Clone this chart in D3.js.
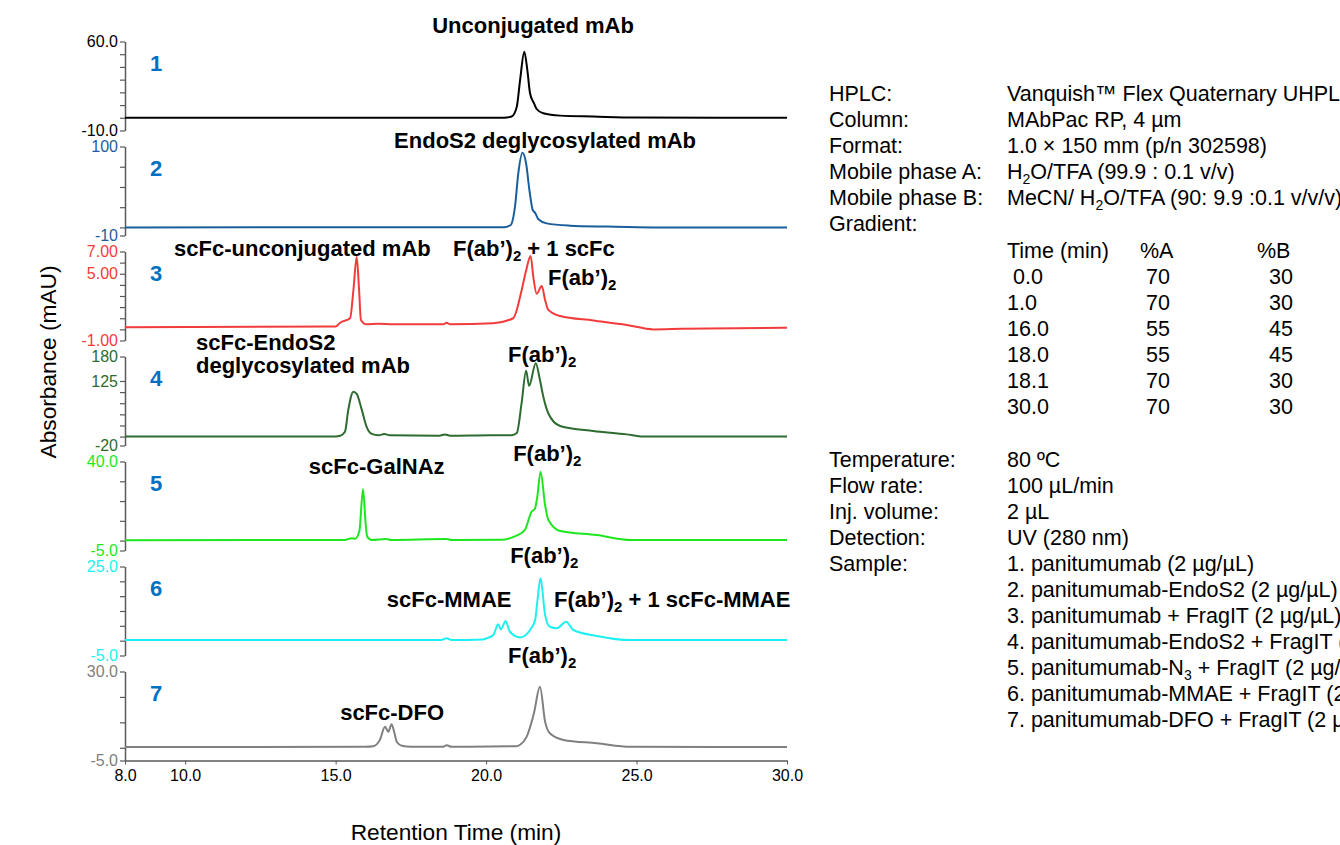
<!DOCTYPE html>
<html lang="en">
<head>
<meta charset="UTF-8">
<title>FragIT RP-HPLC chromatograms</title>
<script src="https://d3js.org/d3.v7.min.js"></script>
<style>
  body { margin: 0; background: #fff; overflow: hidden; }
  svg text { font-family: "Liberation Sans", Arial, sans-serif; }
</style>
</head>
<body>
<div id="chart"></div>
<script>
// [retention time (min), absorbance (mAU)]
const trace1 = [[8,0],[20.6,0.1],[20.85,1],[21.02,8.7],[21.13,29.7],[21.27,52],[21.37,37.6],[21.46,19.3],[21.6,10.9],[21.68,6.9],[21.9,3.5],[22.46,1.7],[23.56,1.0],[25.0,0.2],[30,0]];
const trace2 = [[8,0],[20.6,0.3],[20.82,3],[20.96,25.6],[21.07,66.8],[21.21,92.3],[21.33,79],[21.44,46],[21.55,21.5],[21.63,18],[21.74,10],[22.01,5],[22.79,2.2],[24.0,1],[25.55,0],[30,0]];
const trace3 = [[8,0.2],[15.0,0.25],[15.15,0.6],[15.48,1.0],[15.59,3.5],[15.7,6.5],[15.78,3.5],[15.84,0.85],[16.03,0.45],[16.42,0.5],[16.9,0.45],[18.58,0.45],[18.69,0.6],[18.8,0.45],[20.24,0.55],[20.9,1.0],[21.18,3.5],[21.33,5.3],[21.48,6.6],[21.57,4.7],[21.68,3.2],[21.85,3.9],[21.96,2.65],[22.07,1.75],[22.46,1.2],[23.56,0.8],[24.67,0.4],[25.56,0.0],[26.5,0.05],[30,0.15]];
const trace4 = [[8,0],[15.0,0.5],[15.15,2],[15.31,11],[15.42,60],[15.59,101],[15.7,96],[15.87,60],[16.03,22],[16.2,6],[16.42,3],[16.62,6],[16.8,3],[18.45,2],[18.63,5],[18.8,2],[20.13,3],[20.85,3],[21.02,8],[21.18,75],[21.33,148],[21.43,114],[21.65,165],[21.79,127],[21.9,90],[22.07,52],[22.46,24],[23.56,12.6],[24.67,5],[25.22,0],[30,0]];
const trace5 = [[8,0.2],[15.3,0.3],[15.53,1.2],[15.65,1.0],[15.79,5],[15.91,26],[16.0,8],[16.05,2],[16.2,0.3],[16.69,0.8],[16.85,0.3],[18.69,0.8],[18.85,0.3],[20.5,0.4],[20.85,1.5],[21.01,2.5],[21.29,5.4],[21.51,14.6],[21.62,16],[21.7,22],[21.81,34.8],[21.96,18],[22.07,10.4],[22.46,4.9],[23.68,2.8],[24.8,0.3],[30,0.3]];
const trace6 = [[8,0.2],[18.5,0.2],[18.69,0.8],[18.85,0.2],[19.9,0.4],[20.02,0.8],[20.24,1.9],[20.4,5.5],[20.49,3.8],[20.65,6.6],[20.79,3.0],[21.13,1.1],[21.46,3.6],[21.63,7.0],[21.7,13],[21.81,21],[21.96,8.7],[22.12,4.7],[22.35,4.2],[22.66,6.4],[22.9,3.6],[23.68,1.6],[24.8,0.2],[30,0.2]];
const trace7 = [[8,0.3],[16.0,0.4],[16.25,0.6],[16.47,3.1],[16.64,8.3],[16.75,6.3],[16.86,9.3],[16.95,6],[17.03,2.4],[17.2,0.8],[17.5,0.4],[18.55,0.4],[18.69,1.0],[18.85,0.4],[21.0,0.6],[21.13,1.2],[21.35,4.4],[21.59,13.6],[21.79,24],[21.96,10.3],[22.12,5.7],[22.57,3.1],[23.68,1.8],[24.8,0.4],[30,0.3]];
const traces = [trace1, trace2, trace3, trace4, trace5, trace6, trace7];

const panelDomains = [[-10,60],[-10,100],[-1,7],[-20,180],[-5,40],[-5,25],[-5,30]];
const panelTicks = [[60,50,40,30,20,10,0,-10],[100,75,50,25,0,-10],[7,6,5,4,3,2,1,0,-1],[180,125,100,75,50,25,0,-20],[40,30,20,10,0,-5],[25,20,15,10,5,0,-5],[30,20,10,0,-5]];
const labelledTicks = [[60,-10],[100,-10],[7,5,-1],[180,125,-20],[40,-5],[25,-5],[30,-5]];
const tickText = [["60.0","-10.0"],["100","-10"],["7.00","5.00","-1.00"],["180","125","-20"],["40.0","-5.0"],["25.0","-5.0"],["30.0","-5.0"]];
const panelColors = ["#000000","#1b5e9b","#f23b3b","#2e6b30","#1ee61e","#1cf0f0","#808080"];
const panelNumbers = ["1","2","3","4","5","6","7"];

const xTicks = [8,10,15,20,25,30];
const xTickText = ["8.0","10.0","15.0","20.0","25.0","30.0"];

// peak annotations: panel index, retention time of text anchor, text ("_2" = subscript)
const peakNotes = [
  [0, 21.56, "Unconjugated mAb"],
  [1, 21.96, "EndoS2 deglycosylated mAb"],
  [2, 9.63, "scFc-unconjugated mAb"],
  [2, 18.9, "F(ab’)_2 + 1 scFc"],
  [2, 22.06, "F(ab’)_2"],
  [3, 10.36, "scFc-EndoS2"],
  [3, 10.36, "deglycosylated mAb"],
  [3, 20.73, "F(ab’)_2"],
  [4, 14.11, "scFc-GalNAz"],
  [4, 20.9, "F(ab’)_2"],
  [5, 20.8, "F(ab’)_2"],
  [5, 16.7, "scFc-MMAE"],
  [5, 22.26, "F(ab’)_2 + 1 scFc-MMAE"],
  [6, 20.73, "F(ab’)_2"],
  [6, 15.15, "scFc-DFO"]
];

const methodKeys = ["HPLC:","Column:","Format:","Mobile phase A:","Mobile phase B:","Gradient:"];
const methodValues = ["Vanquish™ Flex Quaternary UHPLC","MAbPac RP, 4 µm","1.0 × 150 mm (p/n 302598)","H_2O/TFA (99.9 : 0.1 v/v)","MeCN/ H_2O/TFA (90: 9.9 :0.1 v/v/v)",""];
const gradHeader = ["Time (min)","%A","%B"];
const gradTime = [" 0.0","1.0","16.0","18.0","18.1","30.0"];
const gradA = ["70","70","55","55","70","70"];
const gradB = ["30","30","45","45","30","30"];
const condKeys = ["Temperature:","Flow rate:","Inj. volume:","Detection:","Sample:"];
const condValues = ["80 ºC","100 µL/min","2 µL","UV (280 nm)"];
const samples = [
  "1. panitumumab (2 µg/µL)",
  "2. panitumumab-EndoS2 (2 µg/µL)",
  "3. panitumumab + FragIT (2 µg/µL)",
  "4. panitumumab-EndoS2 + FragIT (2 µg/µL)",
  "5. panitumumab-N_3 + FragIT (2 µg/µL)",
  "6. panitumumab-MMAE + FragIT (2 µg/µL)",
  "7. panitumumab-DFO + FragIT (2 µg/µL)"
];

const width = 1340, height = 845;
const svg = d3.select("#chart").append("svg")
  .attr("width", width)
  .attr("height", height);

const x = d3.scaleLinear().domain([8, 30]).range([125, 787]);
const panelTop = i => 41.5 + i * 105;
const panelH = 89;

// write text with "_n" parts as subscripts
function rich(sel, str, subSize, shift) {
  const parts = str.split(/_(\d)/);
  parts.forEach((p, k) => {
    if (p === "") return;
    const sub = k % 2 === 1;
    const t = sel.append("tspan").text(p);
    if (sub) t.attr("font-size", subSize).attr("dy", shift);
    else if (k > 0) t.attr("dy", -shift);
  });
  return sel;
}

// note placement relative to the panel top (px) and anchor
const noteLayout = [
  [-8.5, "middle"], [1.5, "middle"], [4.5, "start"], [4.5, "start"], [33.5, "start"],
  [-6.5, "start"], [16.5, "start"], [5.5, "start"], [12.5, "start"], [-0.5, "start"],
  [-3.5, "start"], [40.5, "start"], [40.5, "start"], [-8.5, "start"], [48.5, "start"]
];

traces.forEach((data, i) => {
  const top = panelTop(i), bottom = top + panelH;
  const y = d3.scaleLinear().domain(panelDomains[i]).range([bottom, top]);
  const g = svg.append("g");

  const ax = g.append("g")
    .attr("transform", "translate(125,0)")
    .call(d3.axisLeft(y)
      .tickValues(panelTicks[i])
      .tickSize(5)
      .tickSizeOuter(0)
      .tickPadding(2)
      .tickFormat(v => {
        const k = labelledTicks[i].indexOf(v);
        return k >= 0 ? tickText[i][k] : "";
      }));
  ax.select(".domain").attr("stroke", "#595959").attr("stroke-width", 1.5);
  ax.selectAll(".tick line").attr("stroke", "#595959").attr("stroke-width", 1.2);
  ax.selectAll(".tick text")
    .attr("fill", panelColors[i])
    .style("font-size", "16px");

  g.append("path")
    .datum(data)
    .attr("fill", "none")
    .attr("stroke", panelColors[i])
    .attr("stroke-width", 2)
    .attr("d", d3.line()
      .x(d => x(d[0]))
      .y(d => y(d[1]))
      .curve(d3.curveMonotoneX));

  g.append("text")
    .attr("x", 150)
    .attr("y", top + 29)
    .attr("fill", "#0070c0")
    .style("font-size", "22px")
    .style("font-weight", "bold")
    .text(panelNumbers[i]);
});

peakNotes.forEach((n, k) => {
  const t = svg.append("text")
    .attr("x", x(n[1]))
    .attr("y", panelTop(n[0]) + noteLayout[k][0])
    .attr("text-anchor", noteLayout[k][1])
    .attr("fill", "#000")
    .style("font-size", "22px")
    .style("font-weight", "bold");
  rich(t, n[2], "15px", 5);
});

// x axis
const xa = svg.append("g")
  .attr("transform", "translate(0," + (panelTop(6) + panelH) + ")")
  .call(d3.axisBottom(x)
    .tickValues(xTicks)
    .tickSize(4)
    .tickSizeOuter(0)
    .tickPadding(5)
    .tickFormat((v, k) => xTickText[k]));
xa.select(".domain").attr("stroke", "#595959").attr("stroke-width", 1.5);
xa.selectAll(".tick line").attr("stroke", "#595959");
xa.selectAll(".tick text").attr("fill", "#000").style("font-size", "16px");

svg.append("text")
  .attr("transform", "translate(56,362) rotate(-90)")
  .attr("text-anchor", "middle")
  .style("font-size", "22.7px")
  .text("Absorbance (mAU)");

svg.append("text")
  .attr("x", 456)
  .attr("y", 840)
  .attr("text-anchor", "middle")
  .style("font-size", "22.7px")
  .text("Retention Time (min)");

// method panel on the right
const info = svg.append("g").style("font-size", "21.5px").attr("fill", "#000");
const keyX = 829, valX = 1007, rowH = 26;

methodKeys.forEach((k, i) => {
  const yy = 101 + i * rowH;
  info.append("text").attr("x", keyX).attr("y", yy).text(k);
  rich(info.append("text").attr("x", valX).attr("y", yy), methodValues[i], "14px", 5);
});

const tblY = 258;
[valX, 1140, 1257].forEach((cx, c) => {
  info.append("text").attr("x", cx).attr("y", tblY).text(gradHeader[c]);
});
gradTime.forEach((v, r) => {
  const yy = tblY + (r + 1) * rowH;
  info.append("text").attr("x", valX).attr("y", yy).style("white-space", "pre").text(v);
  info.append("text").attr("x", 1146).attr("y", yy).text(gradA[r]);
  info.append("text").attr("x", 1269).attr("y", yy).text(gradB[r]);
});

const condY = 467;
condKeys.forEach((k, i) => {
  const yy = condY + i * rowH;
  info.append("text").attr("x", keyX).attr("y", yy).text(k);
  if (i < condValues.length) {
    info.append("text").attr("x", valX).attr("y", yy).text(condValues[i]);
  }
});
samples.forEach((s, i) => {
  const yy = condY + (condKeys.length - 1 + i) * rowH;
  rich(info.append("text").attr("x", valX).attr("y", yy), s, "14px", 5);
});
</script>
</body>
</html>
